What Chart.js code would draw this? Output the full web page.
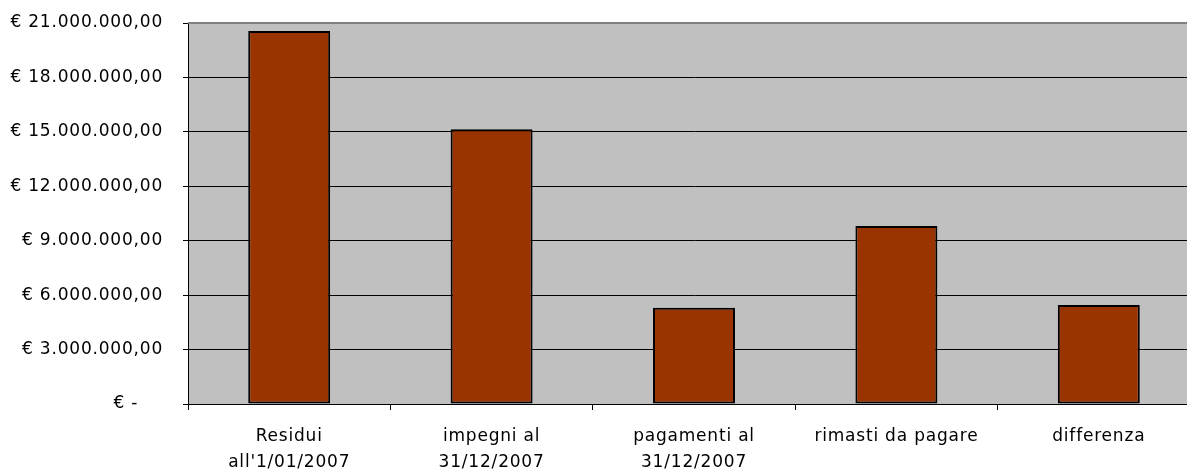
<!DOCTYPE html>
<html>
<head>
<meta charset="utf-8">
<script src="https://cdn.jsdelivr.net/npm/chart.js@4/dist/chart.umd.min.js"></script>
<style>
  html, body { margin: 0; padding: 0; background: #fff; overflow: hidden; }
  #wrap { width: 1200px; height: 475px; }
</style>
</head>
<body>
<div id="wrap"><canvas id="chart"></canvas></div>
<script>
const categories = [
    ["Residui", "all'1/01/2007"],
    ["impegni al", "31/12/2007"],
    ["pagamenti al", "31/12/2007"],
    "rimasti da pagare",
    "differenza",
];
const amounts = [20560000, 15140000, 5310000, 9810000, 5450000];
const yTickLabels = [
    "€ -    ",
    "€ 3.000.000,00",
    "€ 6.000.000,00",
    "€ 9.000.000,00",
    "€ 12.000.000,00",
    "€ 15.000.000,00",
    "€ 18.000.000,00",
    "€ 21.000.000,00",
];

const fontFamily = "'DejaVu Sans', sans-serif";
const spacing = "0.8px";

// sfondo grigio dell'area del grafico + spaziatura lettere
const plotBg = {
    id: "plotBg",
    beforeLayout(chart) {
        chart.ctx.letterSpacing = spacing;
    },
    beforeDraw(chart) {
        const { ctx, chartArea: a } = chart;
        ctx.letterSpacing = spacing;
        ctx.save();
        ctx.fillStyle = "#c0c0c0";
        ctx.fillRect(a.left, a.top, a.right - a.left, a.bottom - a.top);
        ctx.restore();
    },
    afterDatasetsDraw(chart) {
        const { ctx, chartArea: a } = chart;
        ctx.save();
        ctx.strokeStyle = "#808080";
        ctx.lineWidth = 2;
        ctx.beginPath();
        ctx.moveTo(a.left, a.top);
        ctx.lineTo(a.right, a.top);
        ctx.stroke();
        ctx.restore();
    },
};

new Chart(document.getElementById("chart"), {
    type: "bar",
    data: {
        labels: categories,
        datasets: [
            {
                data: amounts,
                backgroundColor: "#993300",
                borderColor: "#000000",
                borderWidth: 2,
                borderSkipped: false,
                categoryPercentage: 1,
                barPercentage: 0.405,
            },
        ],
    },
    options: {
        responsive: true,
        maintainAspectRatio: false,
        animation: false,
        layout: { padding: { top: 23, left: 0, right: 0, bottom: 0 } },
        scales: {
            x: {
                offset: true,
                grid: {
                    offset: true,
                    drawOnChartArea: false,
                    drawTicks: true,
                    tickLength: 6,
                    color: "#000",
                },
                border: { color: "#000", width: 1 },
                ticks: {
                    color: "#000",
                    padding: 14,
                    maxRotation: 0,
                    autoSkip: false,
                    font: { family: fontFamily, size: 17, lineHeight: 1.53 },
                },
                afterFit(scale) {
                    scale.height = 71;
                    scale.paddingLeft = 0;
                    scale.paddingRight = 0;
                },
            },
            y: {
                min: 0,
                max: 21000000,
                ticks: {
                    stepSize: 3000000,
                    color: "#000",
                    padding: 20,
                    font: { family: fontFamily, size: 17 },
                    callback: (v, i) => yTickLabels[i],
                },
                grid: { color: "#000", tickLength: 5 },
                border: { color: "#000", width: 1 },
                afterFit(scale) {
                    scale.width = 188;
                    scale.paddingTop = 0;
                    scale.paddingBottom = 0;
                },
            },
        },
        plugins: {
            legend: { display: false },
            tooltip: { enabled: false },
        },
    },
    plugins: [plotBg],
});
</script>
</body>
</html>
